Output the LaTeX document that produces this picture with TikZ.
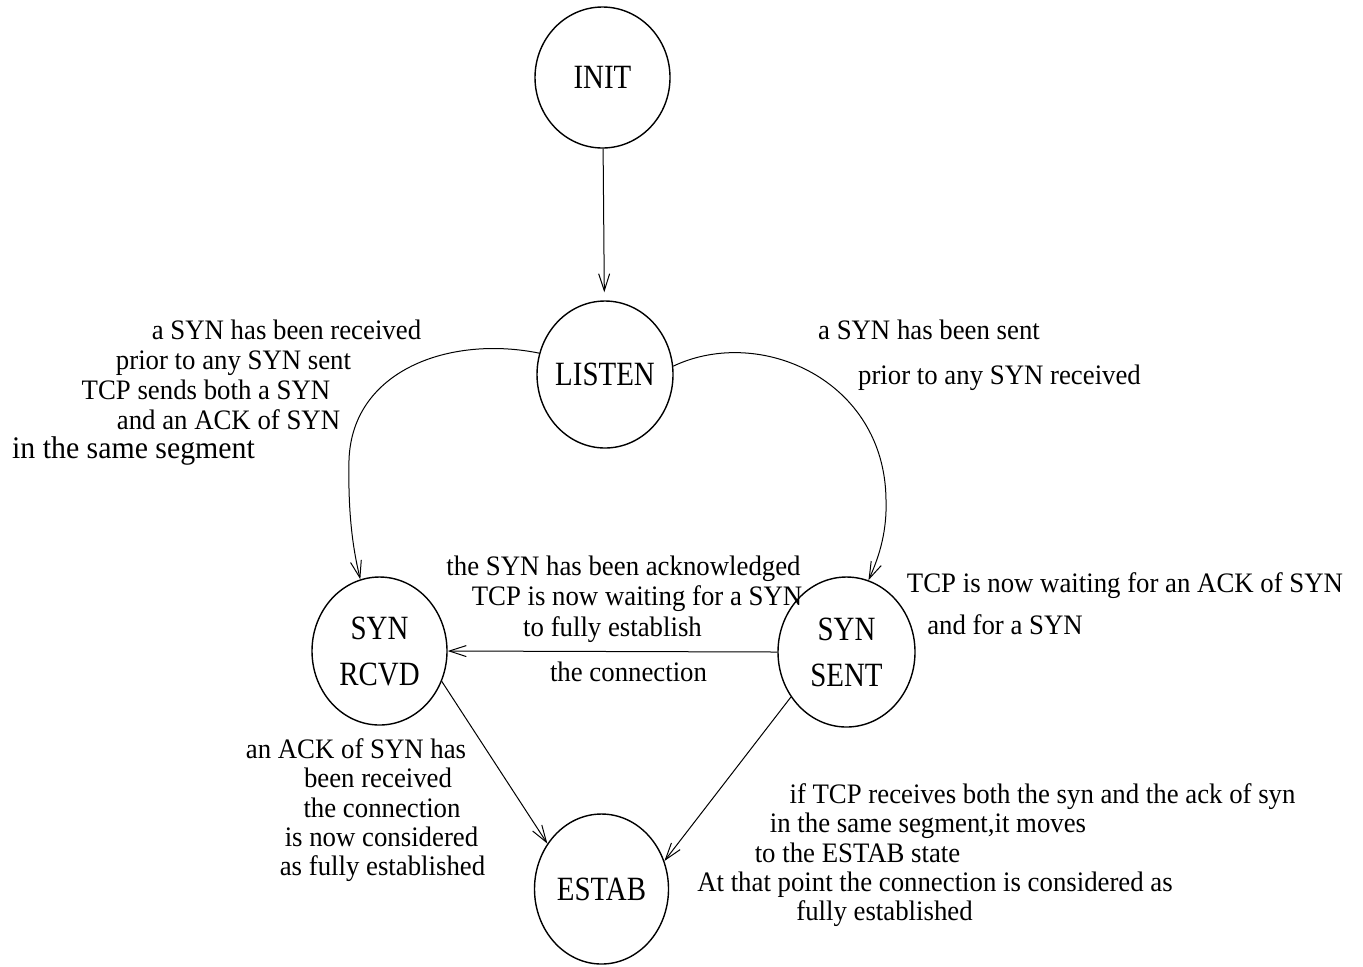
\documentclass[tikz,border=0pt]{standalone}
\usepackage{fontspec}
\setmainfont{Liberation Serif}
\newfontfamily\statefont[FakeStretch=0.85]{Liberation Serif}
\newfontfamily\notefont[FakeStretch=0.95]{Liberation Serif}
\usetikzlibrary{shapes.geometric,arrows.meta}
\begin{document}
\begin{tikzpicture}[x=0.5pt,y=-0.5pt,
  state/.style={ellipse, draw, line width=0.7pt, inner sep=0pt, align=center,
    font=\statefont\fontsize{17}{23}\selectfont},
  note/.style={anchor=base, inner sep=0pt, font=\notefont\fontsize{14.1}{15}\selectfont},
  bignote/.style={note, font=\notefont\fontsize{15.7}{17}\selectfont},
  trans/.style={line width=0.5pt, -{Straight Barb[length=8.5pt,width=5.5pt]}}]
\useasboundingbox (0,0) rectangle (1363,966);

% states
\node[state, minimum width=67.5pt, minimum height=70.5pt] (init)   at (602.5,77.5) {\makebox[0pt]{INIT}};
\node[state, minimum width=68pt,   minimum height=73.5pt] (listen) at (605,374.5)  {\makebox[0pt]{LISTEN}};
\node[state, minimum width=67.5pt, minimum height=74pt]   (rcvd)   at (379.5,651)  {\makebox[0pt]{SYN}\\\makebox[0pt]{RCVD}};
\node[state, minimum width=68.5pt, minimum height=75pt]   (sent)   at (846.5,652)  {\makebox[0pt]{SYN}\\\makebox[0pt]{SENT}};
\node[state, minimum width=67pt,   minimum height=75pt]   (estab)  at (601.5,889)  {\makebox[0pt]{ESTAB}};

% transitions
\draw[trans, shorten >=4pt] (init) -- (listen);
\draw[trans] (listen.162) .. controls (450,335) and (352,370) .. (349,460)
             .. controls (348,510) and (352,545) .. (rcvd.105);
\draw[trans] (listen.7) .. controls (760,325) and (885,380) .. (886,500)
             .. controls (887,530) and (880,555) .. (sent.73);
\draw[trans] (sent.west) -- (rcvd.east);
\draw[trans] (rcvd.-26) -- (estab.140);
\draw[trans] (sent.219) -- (estab.24);

% LISTEN -> SYN RCVD
\node[note] (l1) at (286.5,339) {a SYN has been received};
\node[note] (l2) at (233.5,369) {prior to any SYN sent};
\node[note] (l3) at (206,399)   {TCP sends both a SYN};
\node[note] (l4) at (228.5,429) {and an ACK of SYN};
\node[bignote] (l5) at (133.5,458) {in the same segment};

% LISTEN -> SYN SENT
\node[note] (r1) at (929,339)   {a SYN has been sent};
\node[note] (r2) at (999.5,384) {prior to any SYN received};

% SYN SENT -> SYN RCVD
\node[note] (m1) at (623.5,575) {the SYN has been acknowledged};
\node[note] (m2) at (637,605)   {TCP is now waiting for a SYN};
\node[note] (m3) at (612.5,636) {to fully establish};
\node[note] (m4) at (628.5,681) {the connection};

% SYN SENT state
\node[note] (s1) at (1125,592) {TCP is now waiting for an ACK of SYN};
\node[note] (s2) at (1005,634) {and for a SYN};

% SYN RCVD -> ESTAB
\node[note] (e1) at (356,758)   {an ACK of SYN has};
\node[note] (e2) at (378,787)   {been received};
\node[note] (e3) at (382,817)   {the connection};
\node[note] (e4) at (381.5,846) {is now considered};
\node[note] (e5) at (382.5,875) {as fully established};

% SYN SENT -> ESTAB
\node[note] (f1) at (1042.5,803) {if TCP receives both the syn and the ack of syn};
\node[note] (f2) at (928,832)    {in the same segment,it moves};
\node[note] (f3) at (857.5,862)  {to the ESTAB state};
\node[note] (f4) at (935,891)    {At that point the connection is considered as};
\node[note] (f5) at (884.5,920)  {fully established};
\end{tikzpicture}
\end{document}
